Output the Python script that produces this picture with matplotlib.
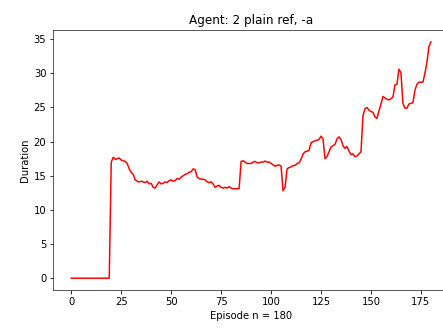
import matplotlib
matplotlib.use("Agg")
import matplotlib.pyplot as plt

# episode durations, one value per episode
durations = [
    0, 0, 0, 0, 0, 0, 0, 0, 0, 0,
    0, 0, 0, 0, 0, 0, 0, 0, 0, 0,
    17.0, 17.7, 17.4, 17.5, 17.6, 17.3, 17.2, 17.1, 16.8, 16.0,
    15.5, 15.2, 14.4, 14.2, 14.1, 14.2, 14.1, 14.0, 14.2, 13.8,
    13.9, 13.3, 13.2, 13.7, 14.1, 13.8, 13.9, 14.1, 14.0, 14.3,
    14.4, 14.2, 14.3, 14.6, 14.5, 14.8, 15.0, 15.2, 15.3, 15.5,
    15.6, 16.0, 15.9, 14.8, 14.6, 14.5, 14.5, 14.4, 14.1, 14.0,
    14.1, 13.8, 13.3, 13.5, 13.6, 13.3, 13.2, 13.3, 13.2, 13.4,
    13.2, 13.1, 13.1, 13.1, 13.1, 17.1, 17.2, 17.0, 16.8, 16.8,
    16.8, 17.0, 17.1, 16.9, 16.9, 17.0, 17.0, 17.15, 17.0, 17.0,
    16.8, 16.6, 16.4, 16.5, 16.6, 16.4, 12.8, 13.3, 16.0, 16.2,
    16.3, 16.5, 16.5, 16.8, 16.9, 17.4, 18.2, 18.5, 18.6, 18.7,
    19.8, 20.0, 20.1, 20.2, 20.3, 20.8, 20.4, 17.5, 17.8, 18.5,
    19.2, 19.4, 19.6, 20.4, 20.7, 20.3, 19.4, 19.0, 19.3, 18.6,
    18.1, 18.2, 17.8, 17.9, 18.2, 18.5, 23.8, 24.8, 25.0, 24.6,
    24.4, 24.3, 23.6, 23.4, 24.5, 25.5, 26.6, 26.4, 26.2, 26.1,
    26.3, 26.5, 28.3, 28.4, 30.6, 30.1, 25.6, 24.9, 24.9, 25.5,
    25.6, 25.7, 27.5, 28.4, 28.7, 28.7, 28.7, 30.0, 31.6, 33.9,
    34.6,
]
episodes = list(range(len(durations)))

DPI = 72
fig = plt.figure(figsize=(443 / DPI, 329 / DPI), dpi=DPI)
ax = fig.add_axes([0.1203, 0.1185, 0.893, 0.790])
ax.plot(episodes, durations, color="red", lw=1.5)
ax.set_title("Agent: 2 plain ref, -a")
ax.set_xlabel("Episode n = 180")
ax.set_ylabel("Duration")
ax.set_xticks([0, 25, 50, 75, 100, 125, 150, 175])
ax.set_yticks([0, 5, 10, 15, 20, 25, 30, 35])
for s in ax.spines.values():
    s.set_color("#333333")
fig.savefig("out.png", dpi=DPI)
